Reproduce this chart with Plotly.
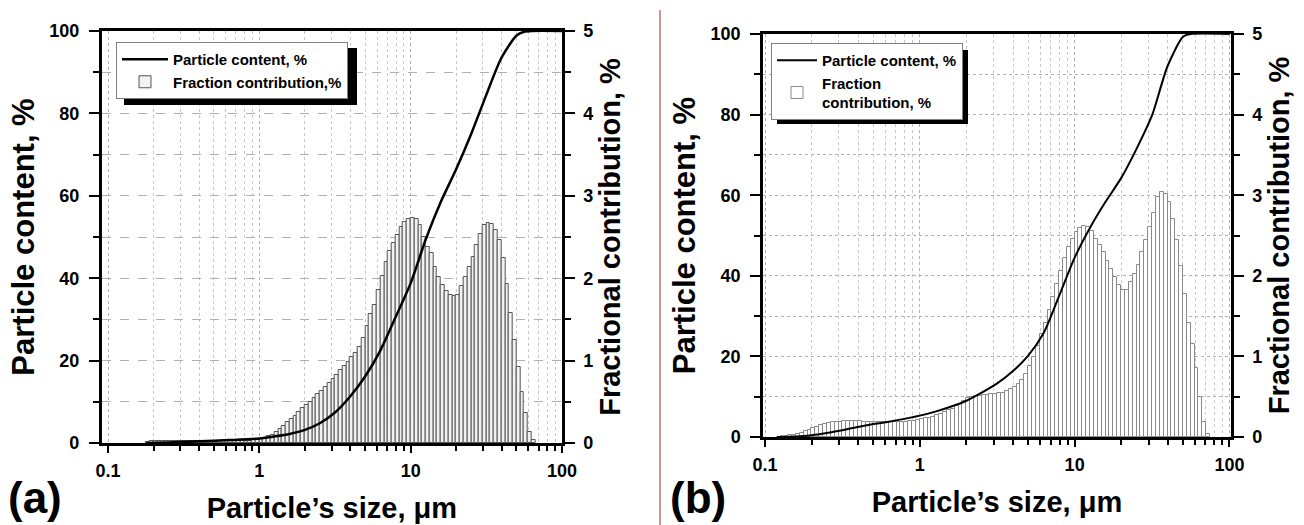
import plotly.graph_objects as go

# ---------------- data ----------------
# instrument size channels (edges, um), 40 channels per decade
size_edges_um = [
    0.1259, 0.1334, 0.1413, 0.1496, 0.1585, 0.1679,
    0.1778, 0.1884, 0.1995, 0.2113, 0.2239, 0.2371, 0.2512, 0.2661, 0.2818, 0.2985,
    0.3162, 0.3350, 0.3548, 0.3758, 0.3981, 0.4217, 0.4467, 0.4732, 0.5012, 0.5309,
    0.5623, 0.5957, 0.6310, 0.6683, 0.7079, 0.7499, 0.7943, 0.8414, 0.8913, 0.9441,
    1.000, 1.059, 1.122, 1.189, 1.259, 1.334, 1.413, 1.496, 1.585, 1.679,
    1.778, 1.884, 1.995, 2.113, 2.239, 2.371, 2.512, 2.661, 2.818, 2.985,
    3.162, 3.350, 3.548, 3.758, 3.981, 4.217, 4.467, 4.732, 5.012, 5.309,
    5.623, 5.957, 6.310, 6.683, 7.079, 7.499, 7.943, 8.414, 8.913, 9.441,
    10.00, 10.59, 11.22, 11.89, 12.59, 13.34, 14.13, 14.96, 15.85, 16.79,
    17.78, 18.84, 19.95, 21.13, 22.39, 23.71, 25.12, 26.61, 28.18, 29.85,
    31.62, 33.50, 35.48, 37.58, 39.81, 42.17, 44.67, 47.32, 50.12, 53.09,
    56.23, 59.57, 63.10, 66.83, 70.79, 74.99, 79.43,
]

# (a) fraction contribution, % per channel
fraction_a = [
    0, 0, 0, 0, 0, 0,
    0.01, 0.02, 0.02, 0.03, 0.03, 0.03, 0.03, 0.03, 0.03, 0.03,
    0.03, 0.03, 0.03, 0.03, 0.03, 0.03, 0.03, 0.03, 0.03, 0.03,
    0.03, 0.03, 0.03, 0.03, 0.03, 0.03, 0.03, 0.03, 0.04, 0.04,
    0.05, 0.06, 0.08, 0.10, 0.13, 0.17, 0.21, 0.25, 0.29, 0.33,
    0.38, 0.42, 0.46, 0.50, 0.55, 0.59, 0.63, 0.68, 0.73, 0.78,
    0.83, 0.88, 0.93, 0.98, 1.04, 1.09, 1.16, 1.28, 1.42, 1.56,
    1.68, 1.86, 2.03, 2.20, 2.33, 2.43, 2.53, 2.62, 2.68, 2.72,
    2.73, 2.72, 2.65, 2.50, 2.38, 2.30, 2.14, 2.02, 1.92, 1.85,
    1.80, 1.78, 1.80, 1.90, 2.02, 2.14, 2.26, 2.40, 2.54, 2.64,
    2.67, 2.66, 2.58, 2.46, 2.25, 1.93, 1.58, 1.25, 0.92, 0.62,
    0.36, 0.13, 0.04, 0, 0, 0,
]

# (b) fraction contribution, % per channel
fraction_b = [
    0.01, 0.01, 0.02, 0.03, 0.04, 0.05,
    0.07, 0.09, 0.11, 0.13, 0.15, 0.16, 0.17, 0.18, 0.19, 0.19,
    0.20, 0.20, 0.20, 0.20, 0.20, 0.19, 0.19, 0.19, 0.18, 0.18,
    0.18, 0.18, 0.18, 0.18, 0.19, 0.19, 0.19, 0.20, 0.20, 0.21,
    0.22, 0.23, 0.24, 0.25, 0.27, 0.29, 0.31, 0.33, 0.35, 0.38,
    0.41, 0.45, 0.49, 0.50, 0.51, 0.51, 0.52, 0.52, 0.53, 0.53,
    0.54, 0.55, 0.57, 0.59, 0.62, 0.66, 0.71, 0.78, 0.88, 0.99,
    1.13, 1.28, 1.42, 1.58, 1.74, 1.90, 2.06, 2.22, 2.36, 2.46,
    2.54, 2.59, 2.62, 2.61, 2.55, 2.46, 2.38, 2.30, 2.18, 2.08,
    1.98, 1.88, 1.82, 1.83, 1.92, 2.02, 2.14, 2.30, 2.45, 2.60,
    2.78, 2.98, 3.04, 3.02, 2.92, 2.70, 2.44, 2.12, 1.78, 1.41,
    1.15, 0.86, 0.50, 0.18, 0.04, 0,
]

# (a) cumulative particle content, %
cum_size_a = [0.18, 0.25, 0.4, 0.63, 1.0, 1.26, 1.58, 2.0, 2.51, 3.16, 3.98,
              5.01, 6.31, 7.94, 10.0, 12.6, 15.8, 20.0, 25.1, 31.6, 39.8,
              50.1, 56.2, 63.1, 100.0]
cum_val_a = [0, 0.15, 0.4, 0.7, 1.1, 1.6, 2.2, 3.2, 4.8, 7.4, 11.3,
             16.2, 22.5, 30.5, 38.8, 49.5, 58.5, 66.5, 75.0, 84.5, 93.5,
             98.9, 99.8, 100, 100]

# (b) cumulative particle content, %
cum_size_b = [0.119, 0.158, 0.2, 0.251, 0.316, 0.398, 0.501, 0.631, 0.794, 1.0,
              1.26, 1.58, 2.0, 2.51, 3.16, 3.98, 5.01, 6.31, 7.94, 10.0,
              12.6, 15.8, 20.0, 25.1, 31.6, 39.8, 50.1, 56.2, 100.0]
cum_val_b = [0, 0.15, 0.45, 1.0, 1.7, 2.5, 3.2, 3.8, 4.5, 5.3,
             6.3, 7.5, 9.0, 11.0, 13.3, 16.3, 20.2, 25.8, 35.0, 44.5,
             52.0, 58.3, 64.3, 71.5, 79.8, 92.0, 99.3, 100, 100]

x_major_ticks = [0.1, 1, 10, 100]
x_major_labels = ["0.1", "1", "10", "100"]
x_minor_ticks = [m * d for d in (0.1, 1, 10) for m in range(2, 10)]

# ---------------- styling ----------------
W, H = 1304, 525
FONT = "Liberation Sans, Arial, sans-serif"
tickfont = dict(family=FONT, size=18, color="black", weight="bold")
xtitlefont = dict(family=FONT, size=29, color="black", weight="bold")
ylefttitlefont = dict(family=FONT, size=31, color="black", weight="bold")
yrighttitlefont = dict(family=FONT, size=29, color="black", weight="bold")
legfont = dict(family=FONT, size=15, color="black", weight="bold")

lo = size_edges_um[:-1]
hi = size_edges_um[1:]
mid = [(a + b) / 2 for a, b in zip(lo, hi)]
wid = [b - a for a, b in zip(lo, hi)]


def nz(vals):
    return [v if v > 0 else None for v in vals]


fig = go.Figure()

# panel (a)
fig.add_trace(go.Bar(
    x=mid, y=nz(fraction_a), width=wid, xaxis="x", yaxis="y",
    marker=dict(color="#f2f2f2", line=dict(color="#555555", width=1)),
    name="Fraction contribution,%", legend="legend", showlegend=True,
))
fig.add_trace(go.Scatter(
    x=cum_size_a, y=cum_val_a, xaxis="x", yaxis="y2", mode="lines",
    line=dict(color="black", width=2.5, shape="spline", smoothing=0.7),
    name="Particle content, %", legend="legend",
))

# panel (b)
fig.add_trace(go.Bar(
    x=mid, y=nz(fraction_b), width=wid, xaxis="x2", yaxis="y3",
    marker=dict(color="white", line=dict(color="#8a8a8a", width=1)),
    name="Fraction<br>contribution, %", legend="legend2", showlegend=True,
))
fig.add_trace(go.Scatter(
    x=cum_size_b, y=cum_val_b, xaxis="x2", yaxis="y4", mode="lines",
    line=dict(color="black", width=2, shape="spline", smoothing=0.7),
    name="Particle content, %", legend="legend2",
))


def xaxis_cfg(domain, rng, anchor, griddash):
    return dict(
        type="log", domain=domain, range=rng, anchor=anchor, automargin=False,
        tickmode="array", tickvals=x_major_ticks, ticktext=x_major_labels,
        ticks="outside", ticklen=7, tickwidth=2, tickcolor="black",
        showline=True, linecolor="black", linewidth=2.5, mirror=True,
        showgrid=True, gridcolor="#b0b0b0", gridwidth=1, griddash=griddash,
        minor=dict(tickmode="array", tickvals=x_minor_ticks, ticks="outside",
                   ticklen=5, tickwidth=1.5, tickcolor="black",
                   showgrid=True, gridcolor="#c8c8c8", gridwidth=1, griddash=griddash),
        tickfont=tickfont, ticklabelstandoff=3,
        title=dict(text="Particle\u2019s size, \u03bcm", font=xtitlefont, standoff=18),
        zeroline=False,
    )


def yfrac_cfg(domain, anchor, griddash):
    return dict(
        domain=domain, range=[0, 5], anchor=anchor, side="right", automargin=False,
        tickmode="array", tickvals=[0, 1, 2, 3, 4, 5],
        ticks="outside", ticklen=10, tickwidth=2, tickcolor="black",
        showline=True, linecolor="black", linewidth=2.5,
        showgrid=True, gridcolor="#b0b0b0", gridwidth=1, griddash=griddash,
        minor=dict(dtick=0.5, ticks="outside", ticklen=6, tickwidth=2, tickcolor="black",
                   showgrid=True, gridcolor="#b0b0b0", gridwidth=1, griddash=griddash),
        tickfont=tickfont, ticklabelstandoff=5,
        title=dict(text="Fractional contribution, %", font=yrighttitlefont, standoff=8),
        zeroline=False,
    )


def ycum_cfg(overlay, anchor):
    return dict(
        range=[0, 100], overlaying=overlay, anchor=anchor, side="left", automargin=False,
        tickmode="array", tickvals=[0, 20, 40, 60, 80, 100],
        ticks="outside", ticklen=10, tickwidth=2, tickcolor="black",
        showline=True, linecolor="black", linewidth=2.5,
        showgrid=False,
        minor=dict(dtick=10, ticks="outside", ticklen=6, tickwidth=2, tickcolor="black",
                   showgrid=False),
        tickfont=tickfont, ticklabelstandoff=6,
        title=dict(text="Particle content, %", font=ylefttitlefont, standoff=6),
        zeroline=False,
    )


dom_xa = [101.7 / W, 562 / W]
dom_ya = [1 - 443 / H, 1 - 31 / H]
dom_xb = [763 / W, 1231 / W]
dom_yb = [1 - 437 / H, 1 - 34 / H]

fig.update_layout(
    width=W, height=H,
    margin=dict(l=0, r=0, t=0, b=0, autoexpand=False),
    paper_bgcolor="white", plot_bgcolor="white",
    barmode="overlay", bargap=0,
    xaxis=xaxis_cfg(dom_xa, [-1.042, 2.0], "y", "dot"),
    yaxis=yfrac_cfg(dom_ya, "x", "dash"),
    yaxis2=ycum_cfg("y", "x"),
    xaxis2=xaxis_cfg(dom_xb, [-1.013, 2.01], "y3", "dot"),
    yaxis3=yfrac_cfg(dom_yb, "x2", "dot"),
    yaxis4=ycum_cfg("y3", "x2"),
    legend=dict(x=116 / W, y=1 - 42 / H, xanchor="left", yanchor="top",
                bgcolor="white", bordercolor="#808080", borderwidth=1,
                font=legfont, traceorder="reversed", tracegroupgap=0,
                itemwidth=46),
    legend2=dict(x=771 / W, y=1 - 43 / H, xanchor="left", yanchor="top",
                 bgcolor="white", bordercolor="#808080", borderwidth=1,
                 font=legfont, traceorder="reversed", tracegroupgap=0,
                 itemwidth=40),
    shapes=[
        # legend drop shadows
        dict(type="rect", xref="paper", yref="paper", layer="above",
             x0=124 / W, x1=357 / W, y0=1 - 105 / H, y1=1 - 48 / H,
             fillcolor="black", line=dict(width=0)),
        dict(type="rect", xref="paper", yref="paper", layer="above",
             x0=777 / W, x1=968 / W, y0=1 - 124 / H, y1=1 - 50 / H,
             fillcolor="black", line=dict(width=0)),
        # panel divider
        dict(type="line", xref="paper", yref="paper",
             x0=660 / W, x1=660 / W, y0=0, y1=1 - 10 / H,
             line=dict(color="#c07070", width=1.5)),
    ],
    annotations=[
        dict(text="(a)", x=6 / W, y=1 - 497 / H, xref="paper", yref="paper",
             xanchor="left", yanchor="middle", showarrow=False,
             font=dict(family=FONT, size=44, color="black", weight="bold")),
        dict(text="(b)", x=668 / W, y=1 - 497 / H, xref="paper", yref="paper",
             xanchor="left", yanchor="middle", showarrow=False,
             font=dict(family=FONT, size=44, color="black", weight="bold")),
    ],
)

fig.write_html("out.html")
